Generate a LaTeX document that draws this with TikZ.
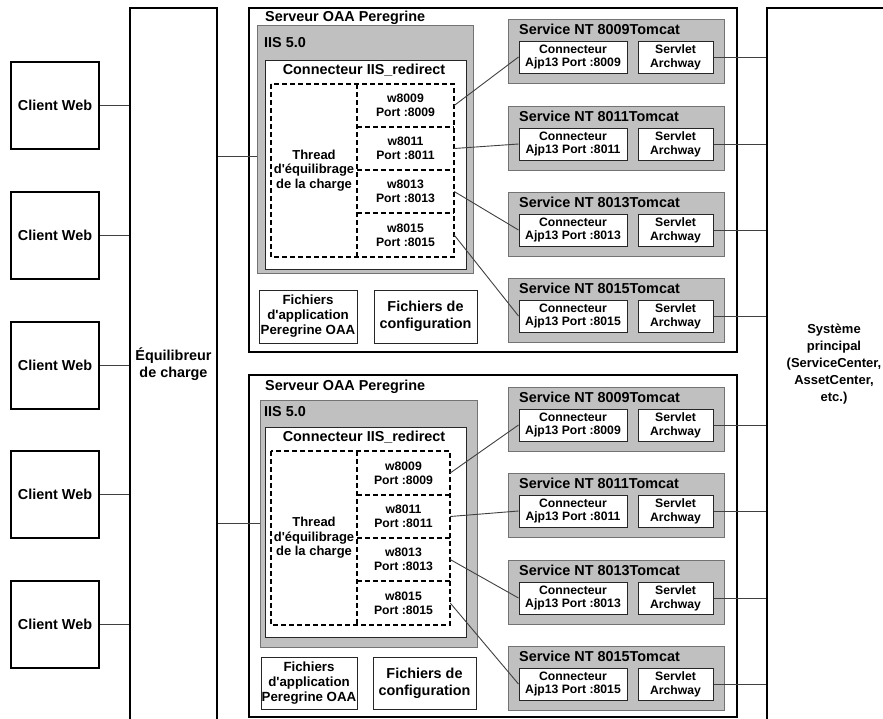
\documentclass[tikz,border=0pt]{standalone}
\usepackage{fontspec}
\setmainfont{Liberation Sans}[Ligatures=TeXOff]
\definecolor{silver}{RGB}{192,192,192}
\begin{document}
\begin{tikzpicture}[x=1pt,y=-1pt,
  bigf/.style={font=\bfseries\fontsize{14.4}{17}\selectfont},
  midf/.style={font=\bfseries\fontsize{13}{14.5}\selectfont},
  smf/.style={font=\bfseries\fontsize{12.2}{13.8}\selectfont},
  apf/.style={font=\bfseries\fontsize{13.3}{15}\selectfont},
  sysf/.style={font=\bfseries\fontsize{13}{16.8}\selectfont},
  area/.style args={#1/#2/#3/#4}{anchor=center, at={({(#1+#3)/2},{(#2+#4)/2})},
     minimum width={(#3)-(#1)}, minimum height={(#4)-(#2)}},
  box/.style={inner sep=0pt, align=center},
  heavy/.style={box, draw, line width=2.4pt, fill=white},
  grayb/.style={box, draw=black!55, line width=1pt, fill=silver},
  whiteb/.style={box, draw=black!85, line width=1pt, fill=white},
  cell/.style={box},
  dashb/.style={line width=1.6pt, dash pattern=on 5pt off 3pt},
  conn/.style={line width=0.9pt, draw=black!75},
  ttl/.style={inner sep=0pt, anchor=west},
]
\useasboundingbox (0,0) rectangle (883,718);
\fill[white] (0,0) rectangle (883,718);
\clip (0,0) rectangle (883,718);

% clients
\foreach \i/\y in {1/62,2/192,3/322,4/451,5/581}
  \node[heavy, bigf, area=11/\y/99/\y+87] (c\i) {Client Web};

% load balancer
\node[heavy, area=130/8/217/740] (lb) {};
\node[bigf, align=center] (lbt) at (173.5,364) {Équilibreur\\de charge};

% main system
\node[heavy, area=767/8/915/740] (sys) {};
\node[sysf, align=center] (syst) at (834,364) {Système\\principal\\(ServiceCenter,\\AssetCenter,\\etc.)};

% ---------- server A ----------
\node[heavy, area=249/8/737/352] (sa) {};
\node[ttl, bigf] (sat) at (265,18) {Serveur OAA Peregrine};
\node[grayb, area=257/25/473/273] (iisa) {};
\node[ttl, bigf] (iisat) at (264,43) {IIS 5.0};
\node[whiteb, area=265/60/466/269] (reda) {};
\node[bigf] (redat) at (364,70) {Connecteur IIS\_redirect};
\draw[dashb] (271,84) rectangle (454,257);
\draw[dashb] (357,84) -- (357,257) (357,127) -- (454,127) (357,170) -- (454,170) (357,213) -- (454,213);
\node[box, midf, area=271/84/357/257] (thra) {Thread\\d'équilibrage\\de la charge};
\foreach \p/\a/\b in {8009/84/127, 8011/127/170, 8013/170/213, 8015/213/257}
  \node[cell, smf, area=357/\a/454/\b] (wa\p) {w\p\\Port :\p};
\node[whiteb, apf, area=259/290/357/343] (fapa) {Fichiers\\d'application\\Peregrine OAA};
\node[whiteb, bigf, area=374/290/477/343] (fcfa) {Fichiers de\\configuration};

% ---------- server B ----------
\node[heavy, area=249/375/737/717] (sb) {};
\node[ttl, bigf] (sbt) at (265,387) {Serveur OAA Peregrine};
\node[grayb, area=260/400/477/647] (iisb) {};
\node[ttl, bigf] (iisbt) at (264,412) {IIS 5.0};
\node[whiteb, area=265/427/466/637] (redb) {};
\node[bigf] (redbt) at (364,437) {Connecteur IIS\_redirect};
\draw[dashb] (271,451) rectangle (450,625);
\draw[dashb] (357,451) -- (357,625) (357,495) -- (450,495) (357,538) -- (450,538) (357,581) -- (450,581);
\node[box, midf, area=271/451/357/625] (thrb) {Thread\\d'équilibrage\\de la charge};
\foreach \p/\a/\b in {8009/451/495, 8011/495/538, 8013/538/581, 8015/581/625}
  \node[cell, smf, area=357/\a/450/\b] (wb\p) {w\p\\Port :\p};
\node[whiteb, apf, area=261/657/357/709] (fapb) {Fichiers\\d'application\\Peregrine OAA};
\node[whiteb, bigf, area=373/657/476/709] (fcfb) {Fichiers de\\configuration};

% ---------- tomcat services ----------
\foreach \s/\t/\p in {a/19/8009, a/106/8011, a/192/8013, a/278/8015, b/387/8009, b/473/8011, b/560/8013, b/646/8015} {
  \node[grayb, area=508/\t/724/\t+64] (tc\s\p) {};
  \node[ttl, bigf] (tct\s\p) at (519,\t+10) {Service NT \p{}Tomcat};
  \node[whiteb, smf, area=519/\t+22/627/\t+54] (cj\s\p) {Connecteur\\Ajp13 Port :\p};
  \node[whiteb, smf, area=638/\t+22/713/\t+54] (sv\s\p) {Servlet\\Archway};
}

% ---------- connectors ----------
\foreach \i in {1,...,5}
  \draw[conn] (c\i.east) -- (lb.west |- c\i.east);
\coordinate (ja) at (0,156);
\coordinate (jb) at (0,523);
\draw[conn] (lb.east |- ja) -- (iisa.west |- ja);
\draw[conn] (lb.east |- jb) -- (iisb.west |- jb);
\foreach \s in {a,b}
  \foreach \p in {8009,8011,8013,8015} {
    \draw[conn] (w\s\p.east) -- (cj\s\p.west);
    \draw[conn] (sv\s\p.east) -- (sys.west |- sv\s\p.east);
  }
\end{tikzpicture}
\end{document}
